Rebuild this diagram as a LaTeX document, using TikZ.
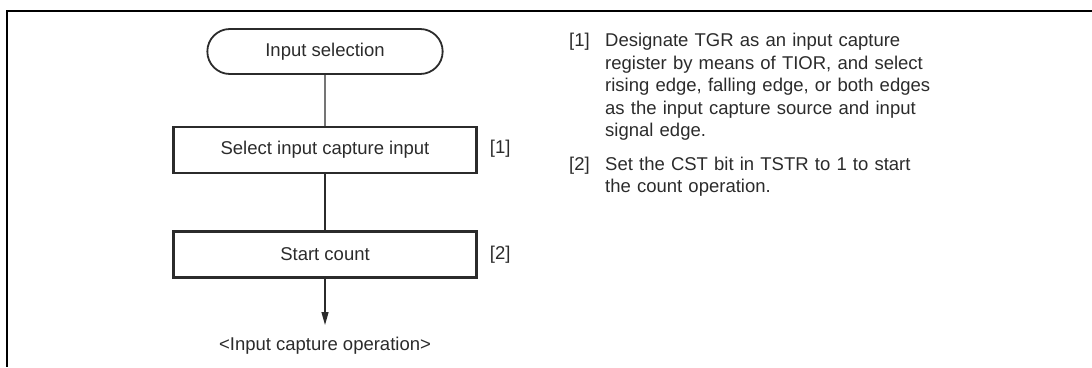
\documentclass[tikz,border=0pt]{standalone}
\usepackage{fontspec}
\setmainfont{Liberation Sans}
\usepackage{xcolor}
\usetikzlibrary{arrows.meta,positioning,shapes.misc}
\definecolor{ink}{HTML}{2B2B2B}

\begin{document}
\begin{tikzpicture}[
  x=1pt,y=-1pt,
  font=\fontsize{18.5}{22.5}\selectfont,
  term/.style={rounded rectangle,draw=ink,line width=1.8pt,minimum width=242pt,
            minimum height=45pt,text=ink},
  proc/.style={draw=ink,line width=2.4pt,minimum width=303pt,
            minimum height=46pt,text=ink},
  tag/.style={text=ink,inner sep=0pt,anchor=west},
  note/.style={text=ink,inner sep=0pt,anchor=base west,text width=330pt,align=left},
  conn/.style={draw=ink,line width=1.2pt},
  arr/.style={-{Triangle[length=13pt,width=7pt]},line width=1.2pt,draw=ink}
]
\useasboundingbox (0,0) rectangle (1092,367);
% frame (top and left edges only)
\coordinate (frtl) at (7,11);
\coordinate (frtr) at (1092,11);
\coordinate (frbl) at (7,367);
\draw[line width=2.5pt] (frtr) -- (frtl) -- (frbl);

\node[term] (sel) at (325,51.5) {Input selection};
\node[proc,below=51pt of sel] (capin) {Select input capture input};
\node[proc,below=56pt of capin] (start) {Start count};
\node[text=ink,inner sep=0pt,anchor=base] (op) at (325,350) {<Input capture operation>};
\coordinate (optip) at (325,325);
\node[tag,right=12pt of capin.east,yshift=1.5pt] (t1) {[1]};
\node[tag,right=12pt of start.east] (t2) {[2]};
\draw[conn] (sel)--(capin);
\draw[conn] (capin)--(start);
\draw[arr] (start.south)--(optip);

\node[tag,anchor=base west] (n1) at (569,46.5) {[1]};
\node[note] (n1txt) at (605,46.5) {Designate TGR as an input capture register by means of TIOR, and select rising edge, falling edge, or both edges as the input capture source and input signal edge.};
\node[tag,anchor=base west] (n2) at (569,170) {[2]};
\node[note] (n2txt) at (605,170) {Set the CST bit in TSTR to 1 to start the count operation.};
\end{tikzpicture}
\end{document}
